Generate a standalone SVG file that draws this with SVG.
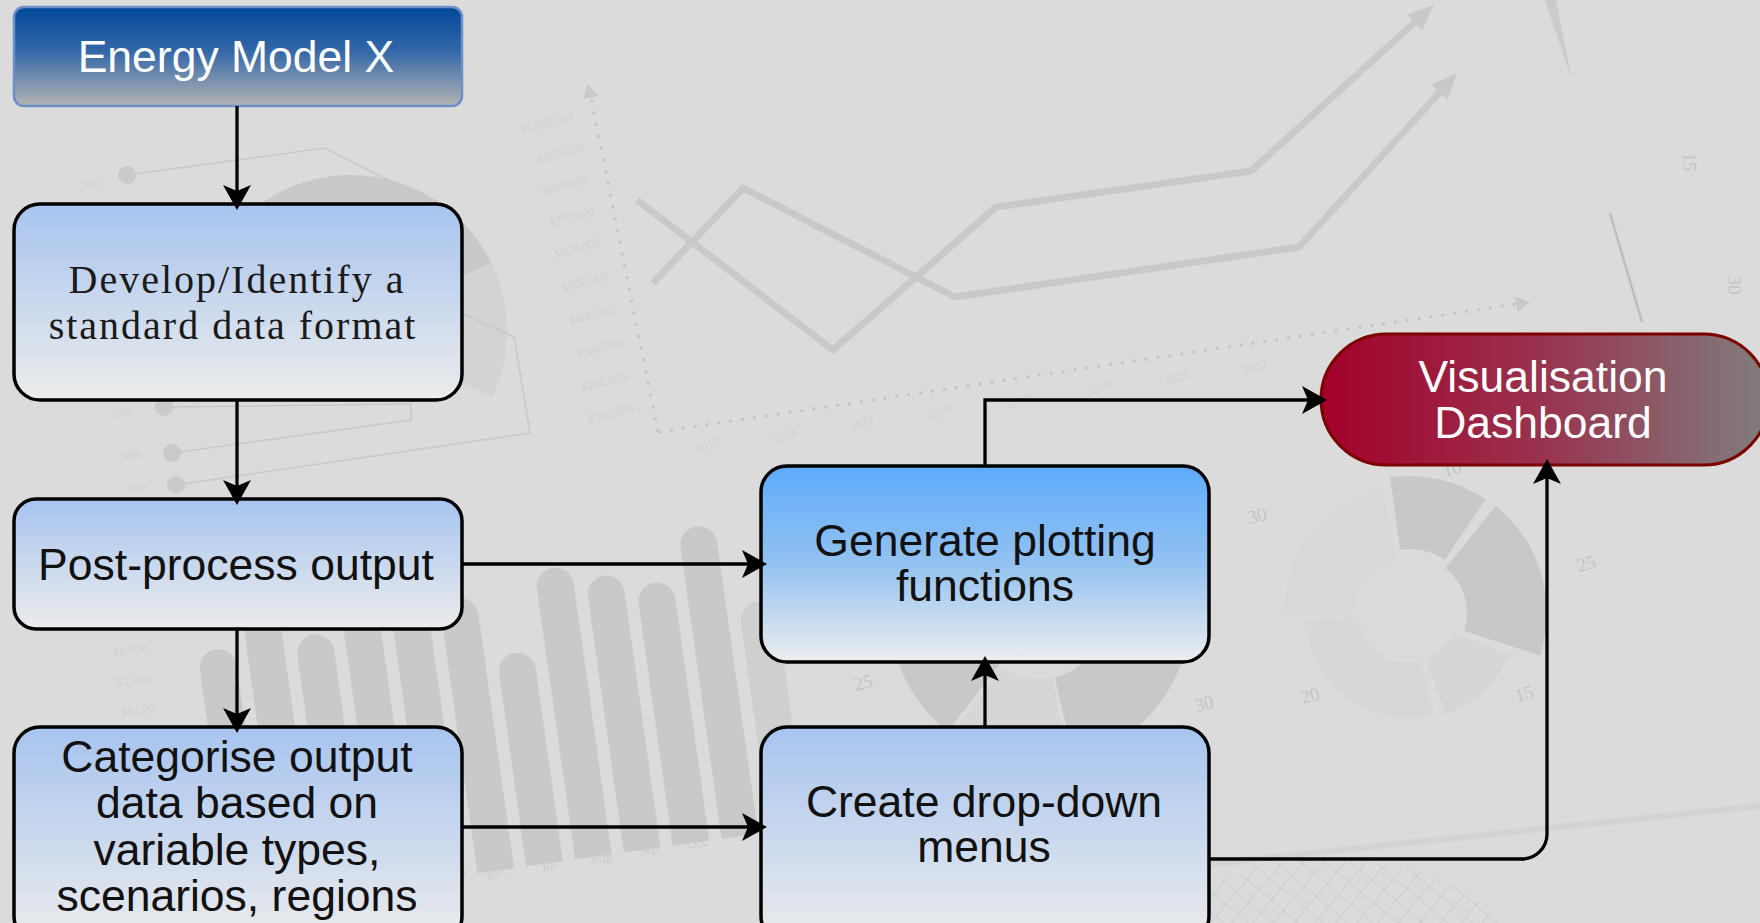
<svg xmlns="http://www.w3.org/2000/svg" width="1760" height="923" viewBox="0 0 1760 923">
<style>
  .lbl{font-family:"Liberation Sans",Arial,sans-serif;font-size:44.5px;text-anchor:middle;fill:#111}
  .lbl-w{fill:#fff}
  .lbl-serif{font-family:"Liberation Serif","Times New Roman",serif;font-size:40px;letter-spacing:2px;text-anchor:middle;fill:#1a1a1a}
  .step{fill:url(#gStep);stroke:#000;stroke-width:3.5}
  .conn{fill:none;stroke:#000;stroke-width:3.3;marker-end:url(#arrow)}
  .bg-line{fill:none;stroke:#c9c9c9;stroke-width:7;stroke-linejoin:round}
  .bg-head{fill:#c9c9c9}
  .bg-dot{fill:none;stroke:#c4c4c4;stroke-width:3;stroke-dasharray:3 9}
  .bg-thin{fill:none;stroke:#c8c8c8;stroke-width:1.5}
  .bg-txt{font-family:"Open Sans","Liberation Sans",sans-serif;font-size:11px;fill:#d0d0d0;text-anchor:middle}
  .bg-mon{font-family:"Open Sans","Liberation Sans",sans-serif;font-size:12px;fill:#cbcbcb;text-anchor:middle}
  .bg-num{font-family:"Liberation Serif","Times New Roman",serif;font-size:19px;fill:#c4c4c4;text-anchor:middle}
  .bar{fill:#c9c9c9}
</style>
<defs>
  <linearGradient id="gEnergy" x1="0" y1="0" x2="0" y2="1">
    <stop offset="0" stop-color="#02489a"/>
    <stop offset="0.45" stop-color="#3468a7"/>
    <stop offset="1" stop-color="#b4b4b4"/>
  </linearGradient>
  <linearGradient id="gStep" x1="0" y1="0" x2="0" y2="1">
    <stop offset="0" stop-color="#a7c4ef"/>
    <stop offset="1" stop-color="#ececec"/>
  </linearGradient>
  <linearGradient id="gGen" x1="0" y1="0" x2="0" y2="1">
    <stop offset="0" stop-color="#5eabfb"/>
    <stop offset="0.5" stop-color="#93c2f0"/>
    <stop offset="1" stop-color="#eeeeee"/>
  </linearGradient>
  <linearGradient id="gVis" x1="0" y1="0" x2="1" y2="0">
    <stop offset="0" stop-color="#a3002a"/>
    <stop offset="0.5" stop-color="#98344f"/>
    <stop offset="1" stop-color="#7e7e7e"/>
  </linearGradient>
  <pattern id="hatch" width="16" height="16" patternUnits="userSpaceOnUse" patternTransform="rotate(40)">
    <path d="M0,0H16M0,0V16" stroke="#c3c3c3" stroke-width="1.2" fill="none"/>
  </pattern>
  <marker id="arrow" markerUnits="userSpaceOnUse" viewBox="-27 -16 29 32" markerWidth="29" markerHeight="32" refX="-6" refY="0" orient="auto">
    <path d="M0,0 L-25,-14 L-19,0 L-25,14 Z" fill="#000"/>
  </marker>
</defs>

<!-- backdrop -->
<rect x="0" y="0" width="1760" height="923" fill="#dbdbdb"/>

<g id="backdrop-charts">
  <!-- pie chart with callout dots, left -->
  <path d="M351,331 L215.9,253 A156,156 0 0 1 491.2,262.7 Z" fill="#c9c9c9"/>
  <path d="M351,331 L491.2,262.7 A156,156 0 0 1 492.4,397 Z" fill="#d3d3d3"/>
  <path class="bg-thin" d="M127,175 L325,148 L436,204"/>
  <path class="bg-thin" d="M164,407 L411,404"/>
  <path class="bg-thin" d="M172,453 L411,420 L411,400"/>
  <path class="bg-thin" d="M176,485 L530,433 L514,337 L461,313"/>
  <g fill="#cacaca">
    <circle cx="127" cy="175" r="9"/>
    <circle cx="164" cy="407" r="9"/>
    <circle cx="172" cy="453" r="9"/>
    <circle cx="176" cy="485" r="9"/>
  </g>
  <g class="bg-txt" font-size="13">
    <text x="89" y="189" transform="rotate(-15 89 185)">25%</text>
    <text x="123" y="416" transform="rotate(-15 123 412)">15%</text>
    <text x="130" y="459" transform="rotate(-15 130 455)">10%</text>
    <text x="136" y="492" transform="rotate(-15 136 488)">10%</text>
  </g>

  <!-- line chart, top -->
  <path class="bg-dot" d="M658,432 L591,98"/>
  <polygon class="bg-head" points="588,84 598.6,96.1 583,99.3"/>
  <path class="bg-dot" d="M658,432 L1516,304"/>
  <polygon class="bg-head" points="1530,302 1517.4,312 1515,296.2"/>
  <path class="bg-line" d="M637,200 L833,350 L996,207 L1251,171 L1415,22"/>
  <polygon class="bg-head" points="1434,5 1422.1,30.7 1407.3,14.3"/>
  <path class="bg-line" d="M653,283 L743,188 L955,297 L1299,247 L1440,92"/>
  <polygon class="bg-head" points="1457,73 1447.6,99.6 1431.4,84.8"/>
  <g class="bg-txt">
    <text x="547" y="127" transform="rotate(-15 547 123)">$1,000,000</text>
    <text x="560" y="157" transform="rotate(-15 560 153)">$900,000</text>
    <text x="565" y="189" transform="rotate(-15 565 185)">$800,000</text>
    <text x="572" y="221" transform="rotate(-15 572 217)">$700,000</text>
    <text x="577" y="252" transform="rotate(-15 577 248)">$600,000</text>
    <text x="585" y="286" transform="rotate(-15 585 282)">$500,000</text>
    <text x="592" y="319" transform="rotate(-15 592 315)">$400,000</text>
    <text x="599" y="352" transform="rotate(-15 599 348)">$300,000</text>
    <text x="604" y="386" transform="rotate(-15 604 382)">$200,000</text>
    <text x="611" y="417" transform="rotate(-15 611 413)">$100,000</text>
    <text x="707" y="449" transform="rotate(-20 707 445)">2015</text>
    <text x="785" y="440" transform="rotate(-20 785 436)">2016</text>
    <text x="862" y="428" transform="rotate(-20 862 424)">2017</text>
    <text x="940" y="416" transform="rotate(-20 940 412)">2018</text>
    <text x="1018" y="405" transform="rotate(-20 1018 401)">2019</text>
    <text x="1099" y="392" transform="rotate(-20 1099 388)">2020</text>
    <text x="1177" y="382" transform="rotate(-20 1177 378)">2021</text>
    <text x="1255" y="371" transform="rotate(-20 1255 367)">2022</text>
  </g>

  <!-- bar chart, lower left -->
  <g class="bar" transform="rotate(-8 500 865)">
    <path d="M230,870 V630.5 A18.5,18.5 0 0 1 267,630.5 V870 Z"/>
    <path d="M279.3,870 V578.5 A18.5,18.5 0 0 1 316.3,578.5 V870 Z"/>
    <path d="M328.6,870 V629.5 A18.5,18.5 0 0 1 365.6,629.5 V870 Z"/>
    <path d="M377.9,870 V578.5 A18.5,18.5 0 0 1 414.9,578.5 V870 Z"/>
    <path d="M427.2,870 V578.5 A18.5,18.5 0 0 1 464.2,578.5 V870 Z"/>
    <path d="M476.5,870 V613.5 A18.5,18.5 0 0 1 513.5,613.5 V870 Z"/>
    <path d="M525.8,870 V675.5 A18.5,18.5 0 0 1 562.8,675.5 V870 Z"/>
    <path d="M575.1,870 V596.5 A18.5,18.5 0 0 1 612.1,596.5 V870 Z"/>
    <path d="M624.4,870 V611.5 A18.5,18.5 0 0 1 661.4,611.5 V870 Z"/>
    <path d="M673.7,870 V625.5 A18.5,18.5 0 0 1 710.7,625.5 V870 Z"/>
    <path d="M723,870 V575.5 A18.5,18.5 0 0 1 760,575.5 V870 Z"/>
    <path d="M772.3,870 V658.5 A18.5,18.5 0 0 1 809.3,658.5 V870 Z" fill="#cfcfcf"/>
  </g>
  <g class="bg-mon">
    <text x="498" y="877" transform="rotate(-8 498 873)">Jun.</text>
    <text x="551" y="869" transform="rotate(-8 551 865)">Jul.</text>
    <text x="603" y="862" transform="rotate(-8 603 858)">Aug.</text>
    <text x="650" y="854" transform="rotate(-8 650 850)">Sep.</text>
    <text x="698" y="847" transform="rotate(-8 698 843)">Oct.</text>
  </g>
  <g class="bg-txt" font-size="12">
    <text x="130" y="654" transform="rotate(-8 130 650)">$8,000</text>
    <text x="134" y="684" transform="rotate(-8 134 680)">$7,000</text>
    <text x="138" y="714" transform="rotate(-8 138 710)">$6,000</text>
  </g>

  <!-- ring chart, bottom middle -->
  <path d="M947.6,731.2 A150,150 0 0 1 988.7,472 L1017.4,551 A66,66 0 0 0 999.3,665 Z" fill="#c8c8c8"/>
  <path d="M1091.3,472 A150,150 0 0 1 1073.7,759.1 L1054.8,677.3 A66,66 0 0 0 1062.6,551 Z" fill="#c8c8c8"/>
  <path d="M1068.6,760.3 A150,150 0 0 1 951.8,734.4 L1001.2,666.4 A66,66 0 0 0 1052.6,677.8 Z" fill="#d6d6d6"/>

  <!-- polar area chart, right -->
  <path d="M1284,613 A125,125 0 0 1 1383,490.7 L1397.6,559.2 A55,55 0 0 0 1354,613 Z" fill="#d9d9d9"/>
  <path d="M1390,477.4 A137,137 0 0 1 1485.6,499.4 L1444.8,559.9 A64,64 0 0 0 1400.1,549.6 Z" fill="#c8c8c8"/>
  <path d="M1495.8,505.8 A138,138 0 0 1 1540.2,655.6 L1464.2,630.9 A58,58 0 0 0 1445.5,567.9 Z" fill="#c8c8c8"/>
  <path d="M1508.5,655.2 A108,108 0 0 1 1445.9,714.5 L1425.4,658.1 A48,48 0 0 0 1453.2,631.8 Z" fill="#d6d6d6"/>
  <path d="M1434.4,714.9 A105,105 0 0 1 1304.3,620.3 L1359.1,616.5 A50,50 0 0 0 1421.1,661.5 Z" fill="#d7d7d7"/>
  <g class="bg-num">
    <text x="1452" y="475" transform="rotate(-15 1452 468)">10</text>
    <text x="1257" y="522" transform="rotate(-15 1257 515)">30</text>
    <text x="1586" y="570" transform="rotate(-15 1586 563)">25</text>
    <text x="1524" y="700" transform="rotate(-15 1524 693)">15</text>
    <text x="1310" y="702" transform="rotate(-15 1310 695)">20</text>
    <text x="1204" y="710" transform="rotate(-15 1204 703)">30</text>
    <text x="863" y="689" transform="rotate(-15 863 682)">25</text>
    <text x="1690" y="169" transform="rotate(90 1690 162)">15</text>
    <text x="1735" y="292" transform="rotate(90 1735 285)">30</text>
  </g>

  <!-- slanted strokes and mesh, right -->
  <polygon points="1545,0 1556,0 1572,80" fill="#cbcbcb"/>
  <line x1="1610" y1="213" x2="1642" y2="322" stroke="#bdbdbd" stroke-width="2.5"/>
  <line x1="1209" y1="864" x2="1760" y2="806" stroke="#cfcfcf" stroke-width="6" opacity="0.6"/>
  <ellipse cx="1330" cy="990" rx="200" ry="132" fill="url(#hatch)"/>
</g>

<g id="node-energy-model">
  <rect x="14" y="7" width="448" height="99" rx="10" fill="url(#gEnergy)" stroke="#6b8fc9" stroke-width="2.5"/>
  <text class="lbl lbl-w" x="236" y="72">Energy Model X</text>
</g>

<g id="node-data-format">
  <rect class="step" x="14" y="204" width="448" height="196" rx="26"/>
  <text class="lbl-serif" x="237" y="293">Develop/Identify a</text>
  <text class="lbl-serif" x="233" y="339">standard data format</text>
</g>

<g id="node-post-process">
  <rect class="step" x="14" y="499" width="448" height="130" rx="22"/>
  <text class="lbl" x="236" y="580">Post-process output</text>
</g>

<g id="node-categorise">
  <rect class="step" x="14" y="727" width="448" height="215" rx="26"/>
  <text class="lbl" x="237" y="772">Categorise output</text>
  <text class="lbl" x="237" y="818">data based on</text>
  <text class="lbl" x="237" y="865">variable types,</text>
  <text class="lbl" x="237" y="911">scenarios, regions</text>
</g>

<g id="node-plotting">
  <rect x="761" y="466" width="448" height="196" rx="26" fill="url(#gGen)" stroke="#000" stroke-width="3.5"/>
  <text class="lbl" x="985" y="556">Generate plotting</text>
  <text class="lbl" x="985" y="601">functions</text>
</g>

<g id="node-dropdown">
  <rect class="step" x="761" y="727" width="448" height="215" rx="26"/>
  <text class="lbl" x="984" y="817">Create drop-down</text>
  <text class="lbl" x="984" y="862">menus</text>
</g>

<g id="node-dashboard">
  <rect x="1321" y="334" width="448" height="131" rx="65.5" fill="url(#gVis)" stroke="#7d0000" stroke-width="3"/>
  <text class="lbl lbl-w" x="1543" y="392">Visualisation</text>
  <text class="lbl lbl-w" x="1543" y="438">Dashboard</text>
</g>

<g id="connectors">
  <path class="conn" d="M237,106 V204"/>
  <path class="conn" d="M237,401 V499"/>
  <path class="conn" d="M237,630 V727"/>
  <path class="conn" d="M462,564 H761"/>
  <path class="conn" d="M462,827 H761"/>
  <path class="conn" d="M985,727 V662"/>
  <path class="conn" d="M985,466 V400 H1321"/>
  <path class="conn" d="M1209,859 H1522 A25,25 0 0 0 1547,834 V465"/>
</g>
</svg>
